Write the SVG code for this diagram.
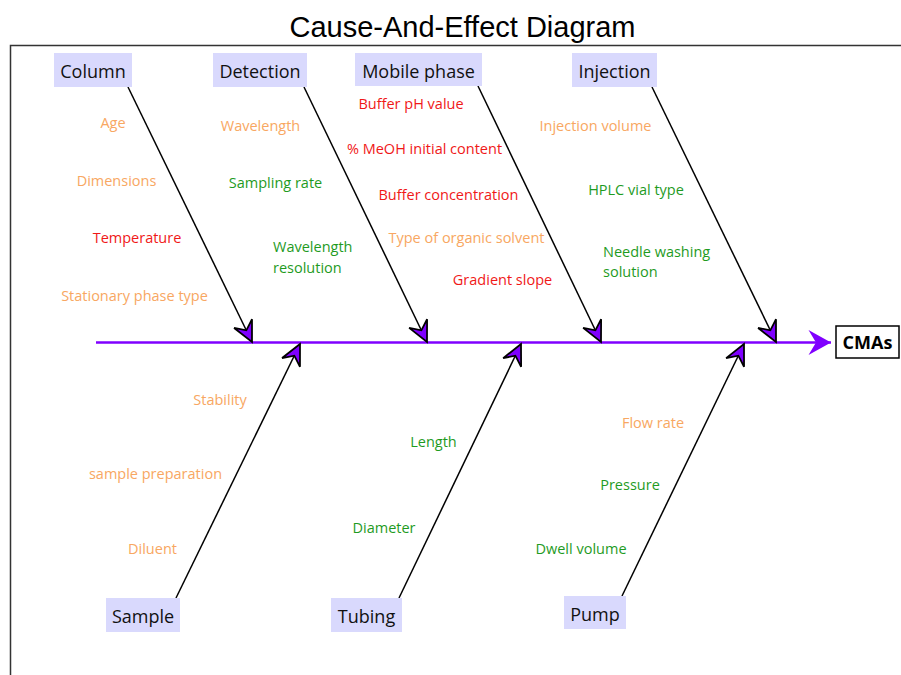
<svg xmlns="http://www.w3.org/2000/svg" width="901" height="675" viewBox="0 0 901 675">
<defs>
<style>
.frame{fill:none;stroke:#333;stroke-width:1.5}
.title{font-family:"Liberation Sans",Arial,sans-serif;font-size:29px;fill:#000;text-anchor:middle}
.cat rect{fill:#D9D9FD}
.cat text{font-family:"Open Sans","Noto Sans",sans-serif;font-size:18px;fill:#111;text-anchor:middle}
.lbl{font-family:"Open Sans","Noto Sans",sans-serif;font-size:14.5px;text-anchor:middle}
.o{fill:#F8A762}
.r{fill:#F01818}
.g{fill:#1F9B1F}
.st{text-anchor:start}
.bone{stroke:#000;stroke-width:1.5;fill:none;marker-end:url(#ah)}
.spine{stroke:#8000FF;stroke-width:2.5;fill:none;marker-end:url(#sh)}
.effect rect{fill:#fff;stroke:#000;stroke-width:1.5}
.effect text{font-family:"Open Sans","Noto Sans",sans-serif;font-size:18px;font-weight:bold;fill:#000;text-anchor:middle}
</style>
<marker id="ah" markerUnits="userSpaceOnUse" markerWidth="30" markerHeight="30" viewBox="-20 -10 22 20" refX="0" refY="0" orient="auto">
<path d="M0,0 L-15,-7.3 L-9.5,0 L-15,7.3 Z" fill="#7F00FF" stroke="#000" stroke-width="1.3" stroke-linejoin="miter"/>
</marker>
<marker id="sh" markerUnits="userSpaceOnUse" markerWidth="30" markerHeight="30" viewBox="-20 -12 22 24" refX="0" refY="0" orient="auto">
<path d="M0,0 L-18,-10 L-12,0 L-18,10 Z" fill="#8000FF"/>
</marker>
</defs>
<rect class="frame" x="10.5" y="45.5" width="1000" height="700"/>
<text class="title" x="462.5" y="37">Cause-And-Effect Diagram</text>

<g id="connectors">
<line class="spine" x1="96" y1="342.5" x2="831" y2="342.5"/>
<line class="bone" x1="128" y1="87" x2="252" y2="342"/>
<line class="bone" x1="304" y1="87" x2="427" y2="342"/>
<line class="bone" x1="478" y1="86" x2="601" y2="342"/>
<line class="bone" x1="652" y1="87" x2="776" y2="342"/>
<line class="bone" x1="176" y1="598" x2="300" y2="344"/>
<line class="bone" x1="399" y1="598" x2="521" y2="344"/>
<line class="bone" x1="622" y1="596" x2="744" y2="344"/>
</g>

<g id="column" class="cat"><rect x="54" y="53" width="78" height="34"/><text x="93" y="78">Column</text></g>
<g id="detection" class="cat"><rect x="213" y="53" width="94" height="34"/><text x="260" y="78">Detection</text></g>
<g id="mobile-phase" class="cat"><rect x="355" y="53" width="127" height="33"/><text x="418.5" y="78">Mobile phase</text></g>
<g id="injection" class="cat"><rect x="572" y="53" width="85" height="34"/><text x="614.5" y="78">Injection</text></g>
<g id="sample" class="cat"><rect x="106" y="598" width="74" height="34"/><text x="143" y="623">Sample</text></g>
<g id="tubing" class="cat"><rect x="331" y="598" width="71" height="34"/><text x="366.5" y="623">Tubing</text></g>
<g id="pump" class="cat"><rect x="564" y="596" width="62" height="33"/><text x="595" y="621">Pump</text></g>
<g id="cmas" class="effect"><rect x="836" y="326" width="63" height="32"/><text x="867.5" y="349">CMAs</text></g>

<g id="column-causes">
<text class="lbl o" x="113" y="128">Age</text>
<text class="lbl o" x="116.5" y="186">Dimensions</text>
<text class="lbl r" x="137" y="243">Temperature</text>
<text class="lbl o" x="134.5" y="301">Stationary phase type</text>
</g>
<g id="detection-causes">
<text class="lbl o" x="260.5" y="131">Wavelength</text>
<text class="lbl g" x="275.5" y="188">Sampling rate</text>
<text class="lbl g st" x="273" y="252">Wavelength</text>
<text class="lbl g st" x="273" y="273">resolution</text>
</g>
<g id="mobile-phase-causes">
<text class="lbl r" x="411" y="109">Buffer pH value</text>
<text class="lbl r" x="424.5" y="154">% MeOH initial content</text>
<text class="lbl r" x="448.5" y="200">Buffer concentration</text>
<text class="lbl o" x="466.5" y="243">Type of organic solvent</text>
<text class="lbl r" x="502.5" y="285">Gradient slope</text>
</g>
<g id="injection-causes">
<text class="lbl o" x="595.5" y="131">Injection volume</text>
<text class="lbl g" x="636" y="195">HPLC vial type</text>
<text class="lbl g st" x="603" y="257">Needle washing</text>
<text class="lbl g st" x="603" y="277">solution</text>
</g>
<g id="sample-causes">
<text class="lbl o" x="220" y="405">Stability</text>
<text class="lbl o" x="155.5" y="479">sample preparation</text>
<text class="lbl o" x="152.5" y="554">Diluent</text>
</g>
<g id="tubing-causes">
<text class="lbl g" x="433.5" y="447">Length</text>
<text class="lbl g" x="384" y="533">Diameter</text>
</g>
<g id="pump-causes">
<text class="lbl o" x="653" y="428">Flow rate</text>
<text class="lbl g" x="630" y="490">Pressure</text>
<text class="lbl g" x="581" y="554">Dwell volume</text>
</g>
</svg>
